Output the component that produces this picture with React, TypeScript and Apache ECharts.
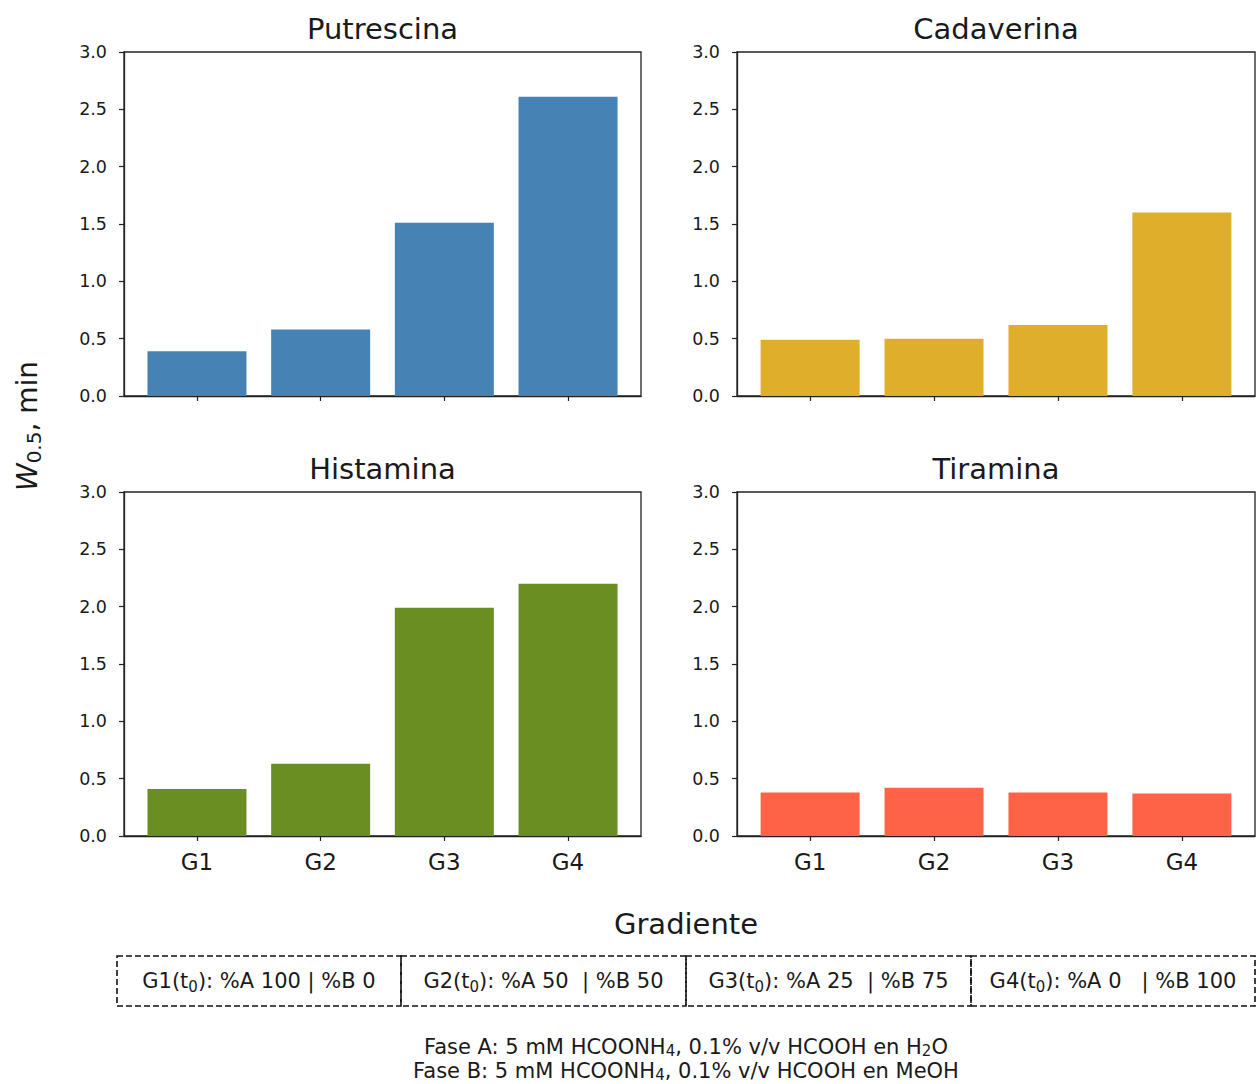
import React, { useEffect, useRef } from "react";
import * as echarts from "echarts";

const categories = ["G1", "G2", "G3", "G4"];
const putrescina = [0.39, 0.58, 1.51, 2.61];
const cadaverina = [0.49, 0.5, 0.62, 1.6];
const histamina = [0.41, 0.63, 1.99, 2.2];
const tiramina = [0.38, 0.42, 0.38, 0.37];
const panelTitles = ["Putrescina", "Cadaverina", "Histamina", "Tiramina"];
const panelColors = ["#4682B4", "#DFAF2C", "#6B8E23", "#FF6347"];
const yMin = 0;
const yMax = 3;
const yStep = 0.5;
const legendTexts = [
  "G1(t₀): %A 100 | %B 0",
  "G2(t₀): %A 50  | %B 50",
  "G3(t₀): %A 25  | %B 75",
  "G4(t₀): %A 0   | %B 100",
];
const footLines = [
  "Fase A: 5 mM HCOONH₄, 0.1% v/v HCOOH en H₂O",
  "Fase B: 5 mM HCOONH₄, 0.1% v/v HCOOH en MeOH",
];
const xAxisTitle = "Gradiente";

const FONT = "DejaVu Sans";
const TXT = "#1a1a1a";
const SUBS = "₀₁₂₃₄₅₆₇₈₉";

function toRich(str: string): string {
  let out = "";
  let buf = "";
  for (const ch of str) {
    const k = SUBS.indexOf(ch);
    if (k >= 0) {
      if (buf) out += `{n|${buf}}`;
      buf = "";
      out += `{s|${k}}`;
    } else {
      buf += ch;
    }
  }
  if (buf) out += `{n|${buf}}`;
  return out;
}

function richStyle(size: number, lh: number) {
  return {
    n: { fontFamily: FONT, fontSize: size, fill: TXT, lineHeight: lh, verticalAlign: "middle" },
    s: { fontFamily: FONT, fontSize: Math.round(size * 0.72), fill: TXT, lineHeight: lh, verticalAlign: "bottom" },
  };
}

export default function App() {
  const ref = useRef<HTMLDivElement>(null);
  useEffect(() => {
    document.body.style.margin = "0";
    const chart = echarts.init(ref.current!, null, { renderer: "svg" });
    const allData = [putrescina, cadaverina, histamina, tiramina];
    const layout = [
      { left: 124, top: 52, width: 517, height: 344, labels: false },
      { left: 737, top: 52, width: 518, height: 344, labels: false },
      { left: 124, top: 492, width: 517, height: 344, labels: true },
      { left: 737, top: 492, width: 518, height: 344, labels: true },
    ];
    const xVals = categories.map((_, i) => i);
    const grids = layout.map((l) => ({
      left: l.left,
      top: l.top,
      width: l.width,
      height: l.height,
      show: true,
      borderColor: "#222",
      borderWidth: 1.3,
      containLabel: false,
    }));
    const xAxes = layout.map((l, i) => ({
      type: "value",
      gridIndex: i,
      min: -0.59,
      max: 3.59,
      splitLine: { show: false },
      axisLine: { show: true, onZero: false, lineStyle: { color: "#222", width: 1.3 } },
      axisTick: { show: true, customValues: xVals, length: 5, lineStyle: { color: "#222", width: 1.2 } },
      axisLabel: {
        show: l.labels,
        customValues: xVals,
        formatter: (v: number) => categories[Math.round(v)] ?? "",
        fontFamily: FONT,
        fontSize: 23,
        color: TXT,
        margin: 14,
      },
    }));
    const yAxes = layout.map((_, i) => ({
      type: "value",
      gridIndex: i,
      min: yMin,
      max: yMax,
      interval: yStep,
      splitLine: { show: false },
      axisLine: { show: true, onZero: false, lineStyle: { color: "#222", width: 1.3 } },
      axisTick: { show: true, length: 5, lineStyle: { color: "#222", width: 1.2 } },
      axisLabel: {
        formatter: (v: number) => v.toFixed(1),
        fontFamily: FONT,
        fontSize: 17.5,
        color: TXT,
        margin: 17,
      },
    }));
    const series = allData.map((d, i) => ({
      type: "bar",
      xAxisIndex: i,
      yAxisIndex: i,
      barWidth: 99,
      data: d.map((v, k) => [xVals[k], v]),
      itemStyle: { color: panelColors[i] },
    }));
    const graphic: any[] = [];
    layout.forEach((l, i) => {
      graphic.push({
        type: "text",
        x: l.left + l.width / 2,
        y: l.top - 23,
        style: {
          text: panelTitles[i],
          fontFamily: FONT,
          fontSize: 29,
          fill: TXT,
          align: "center",
          verticalAlign: "middle",
        },
      });
    });
    graphic.push({
      type: "text",
      x: 686,
      y: 924,
      style: {
        text: xAxisTitle,
        fontFamily: FONT,
        fontSize: 29,
        fill: TXT,
        align: "center",
        verticalAlign: "middle",
      },
    });
    graphic.push({
      type: "text",
      x: 27,
      y: 426,
      rotation: Math.PI / 2,
      style: {
        text: "{w|W}{s|0.5}{m|, min}",
        fontFamily: FONT,
        fill: TXT,
        align: "center",
        verticalAlign: "middle",
        rich: {
          w: { fontFamily: FONT, fontSize: 28, fontStyle: "italic", fill: TXT, lineHeight: 34, verticalAlign: "middle" },
          s: { fontFamily: FONT, fontSize: 20, fill: TXT, lineHeight: 34, verticalAlign: "bottom" },
          m: { fontFamily: FONT, fontSize: 28, fill: TXT, lineHeight: 34, verticalAlign: "middle" },
        },
      },
    });
    const boxEdges = [117, 401, 686, 971, 1255];
    legendTexts.forEach((t, i) => {
      const x0 = boxEdges[i];
      const x1 = boxEdges[i + 1];
      graphic.push({
        type: "rect",
        shape: { x: x0, y: 956, width: x1 - x0, height: 50 },
        style: { fill: "none", stroke: "#111", lineWidth: 1.6, lineDash: [6, 3] },
      });
      graphic.push({
        type: "text",
        x: (x0 + x1) / 2,
        y: 981,
        style: {
          text: toRich(t),
          fontFamily: FONT,
          fontSize: 21,
          fill: TXT,
          align: "center",
          verticalAlign: "middle",
          rich: richStyle(21, 27),
        },
      });
    });
    footLines.forEach((t, i) => {
      graphic.push({
        type: "text",
        x: 686,
        y: 1047 + i * 24,
        style: {
          text: toRich(t),
          fontFamily: FONT,
          fontSize: 21,
          fill: TXT,
          align: "center",
          verticalAlign: "middle",
          rich: richStyle(21, 22),
        },
      });
    });
    chart.setOption({
      animation: false,
      backgroundColor: "#ffffff",
      grid: grids,
      xAxis: xAxes,
      yAxis: yAxes,
      series,
      graphic,
    });
    return () => chart.dispose();
  }, []);
  return <div ref={ref} style={{ width: 1257, height: 1084 }} />;
}
